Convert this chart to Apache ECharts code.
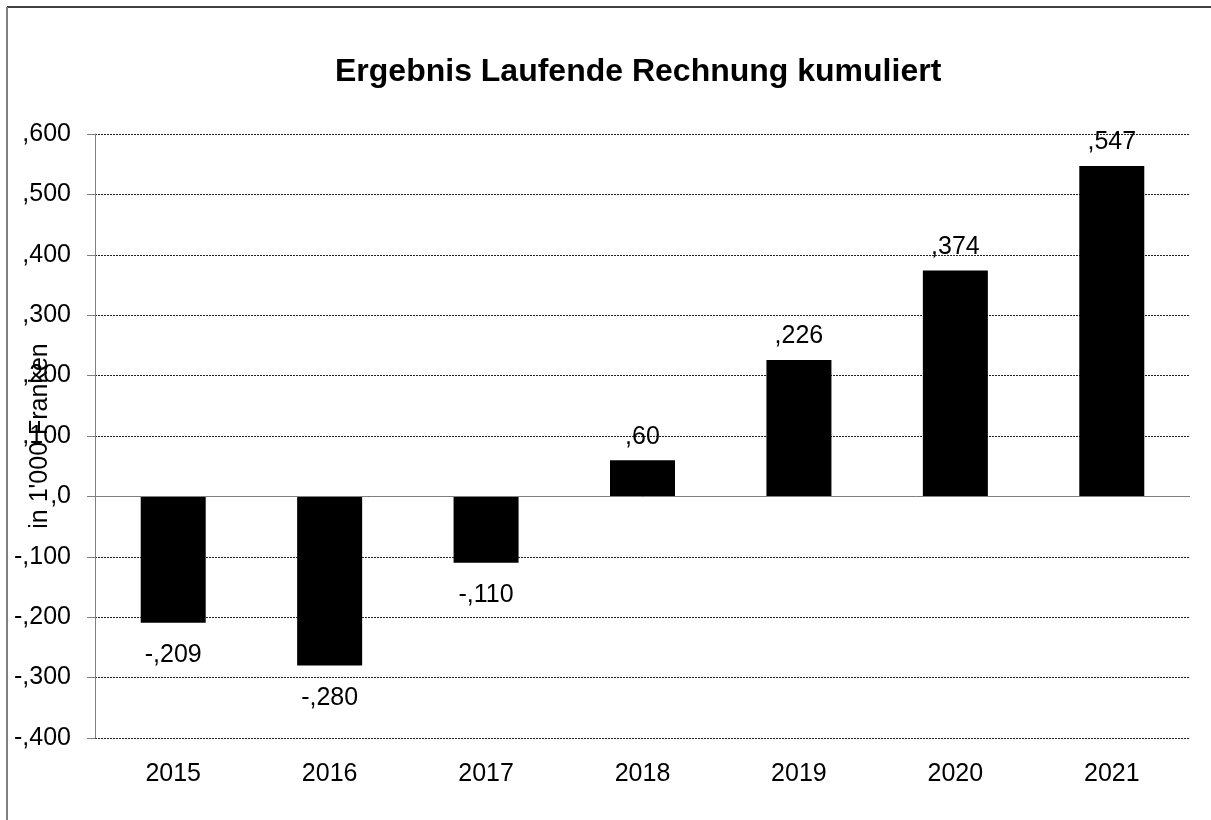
<!DOCTYPE html>
<html>
<head>
<meta charset="utf-8">
<title>Ergebnis Laufende Rechnung kumuliert</title>
<script src="https://cdn.jsdelivr.net/npm/echarts@6/dist/echarts.min.js"></script>
<style>
  * {margin: 0; padding: 0;}
  body {background: #fff;}
  #chart {width: 1211px; height: 820px;}
</style>
</head>
<body>
<div id="chart"></div>
<script>
var years = ['2015', '2016', '2017', '2018', '2019', '2020', '2021'];
var result = [-209, -280, -110, 60, 226, 374, 547];
var yTicks = {min: -400, max: 600, step: 100};

// Excel-style numbers: ,600 / -,209 / ,0
function fmt(v) {
  return (v < 0 ? '-' : '') + ',' + Math.abs(v);
}

var chart = echarts.init(document.getElementById('chart'));

var barData = result.map(function (v) {
  return {
    value: v,
    label: v < 0 ? {position: 'bottom', distance: 20} : {position: 'top', distance: 11}
  };
});

var option = {
  backgroundColor: '#fff',
  animation: false,
  textStyle: {fontFamily: 'Liberation Sans, Arial, sans-serif'},
  title: {
    text: 'Ergebnis Laufende Rechnung kumuliert',
    left: 330,
    top: 51,
    textStyle: {fontSize: 32, fontWeight: 'bold', color: '#000', fontFamily: 'Liberation Sans, Arial, sans-serif'}
  },
  grid: {left: 95, right: 21, top: 134, bottom: 82, containLabel: false, outerBoundsMode: 'none'},
  xAxis: {
    type: 'category',
    data: years,
    axisLine: {show: false, onZero: false},
    axisTick: {show: false},
    axisLabel: {color: '#000', fontSize: 25, margin: 24}
  },
  yAxis: {
    type: 'value',
    min: yTicks.min,
    max: yTicks.max,
    interval: yTicks.step,
    name: "in 1'000 Franken",
    nameLocation: 'middle',
    nameGap: 42,
    nameMoveOverlap: false,
    nameTextStyle: {color: '#000', fontSize: 25},
    axisLine: {show: true, lineStyle: {color: '#808080', width: 1}},
    axisTick: {show: true, inside: false, length: 8, lineStyle: {color: '#808080'}},
    axisLabel: {color: '#000', fontSize: 25, margin: 24, formatter: fmt},
    splitLine: {show: true, lineStyle: {color: '#222', type: [2, 1], width: 1}}
  },
  series: [{
    type: 'bar',
    data: barData,
    barWidth: 65,
    itemStyle: {color: '#000'},
    label: {
      show: true,
      color: '#000',
      fontSize: 25,
      formatter: function (p) { return fmt(p.value); }
    },
    markLine: {
      silent: true,
      symbol: 'none',
      label: {show: false},
      lineStyle: {color: '#808080', type: 'solid', width: 1},
      data: [{yAxis: 0}]
    }
  }],
  graphic: [
    {type: 'line', shape: {x1: 7, y1: 7, x2: 1211, y2: 7}, style: {stroke: '#000', lineWidth: 1.5}},
    {type: 'line', shape: {x1: 7, y1: 7, x2: 7, y2: 820}, style: {stroke: '#808080', lineWidth: 2}}
  ]
};

chart.setOption(option);
</script>
</body>
</html>
